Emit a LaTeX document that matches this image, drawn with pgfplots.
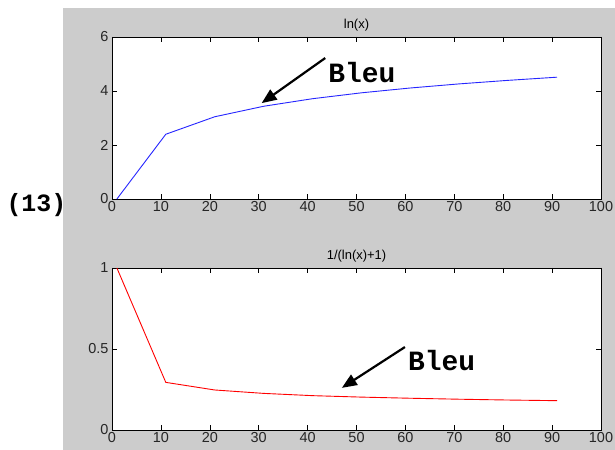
\documentclass[border=0pt]{standalone}
\usepackage{pgfplots}
\pgfplotsset{compat=1.18}
\usepackage{fontspec}
\setmainfont{Liberation Sans}
\newfontfamily\courier{Liberation Mono}
\usetikzlibrary{arrows.meta}
\definecolor{figgray}{RGB}{204,204,204}
\begin{document}
\begin{tikzpicture}[x=1bp,y=1bp]
\fill[white] (0,0) rectangle (615,450);
\fill[figgray] (63,0) rectangle (615,442);
\node[font=\courier\bfseries\fontsize{25}{25}\selectfont, anchor=west] at (3,245) {(13)};
\pgfplotsset{
  every axis/.style={
    scale only axis, width=489bp, height=162bp,
    xmin=0, xmax=100, xtick={0,10,...,100},
    tick align=inside, major tick length=5bp,
    axis line style={black, line width=0.6bp},
    tick style={black, line width=0.6bp},
    tick label style={font=\fontsize{14.5}{14.5}\selectfont, text=black!85},
    xticklabel style={yshift=1bp},
    /pgf/number format/assume math mode=true,
    title style={font=\fontsize{13}{13}\selectfont, yshift=-4bp},
    axis background/.style={fill=white},
    clip=false,
  }
}
\begin{axis}[at={(112bp,251bp)}, anchor=south west,
  ymin=0, ymax=6, ytick={0,2,4,6}, title={ln(x)}]
\addplot[blue!85, line width=0.9bp] coordinates {
(1,0) (11,2.398) (21,3.045) (31,3.434) (41,3.714) (51,3.932) (61,4.111) (71,4.263) (81,4.394) (91,4.511)};
\draw[line width=2.2bp, -{Triangle[length=15bp,width=12bp]}] (axis cs:43.6,5.22) -- (axis cs:30.6,3.55);
\node[font=\courier\bfseries\fontsize{28}{28}\selectfont, anchor=west, inner sep=0] at (axis cs:44.2,4.67) {Bleu};
\end{axis}
\begin{axis}[at={(112bp,20bp)}, anchor=south west,
  ymin=0, ymax=1, ytick={0,0.5,1}, title={1/(ln(x)+1)}]
\addplot[red, line width=0.9bp] coordinates {
(1,1) (11,0.294) (21,0.247) (31,0.226) (41,0.212) (51,0.203) (61,0.196) (71,0.190) (81,0.185) (91,0.181)};
\draw[line width=2.2bp, -{Triangle[length=15bp,width=12bp]}] (axis cs:59.9,0.512) -- (axis cs:47.0,0.26);
\node[font=\courier\bfseries\fontsize{28}{28}\selectfont, anchor=west, inner sep=0] at (axis cs:60.5,0.43) {Bleu};
\end{axis}
\pgfresetboundingbox
\useasboundingbox (0,0) rectangle (615,450);
\end{tikzpicture}
\end{document}
